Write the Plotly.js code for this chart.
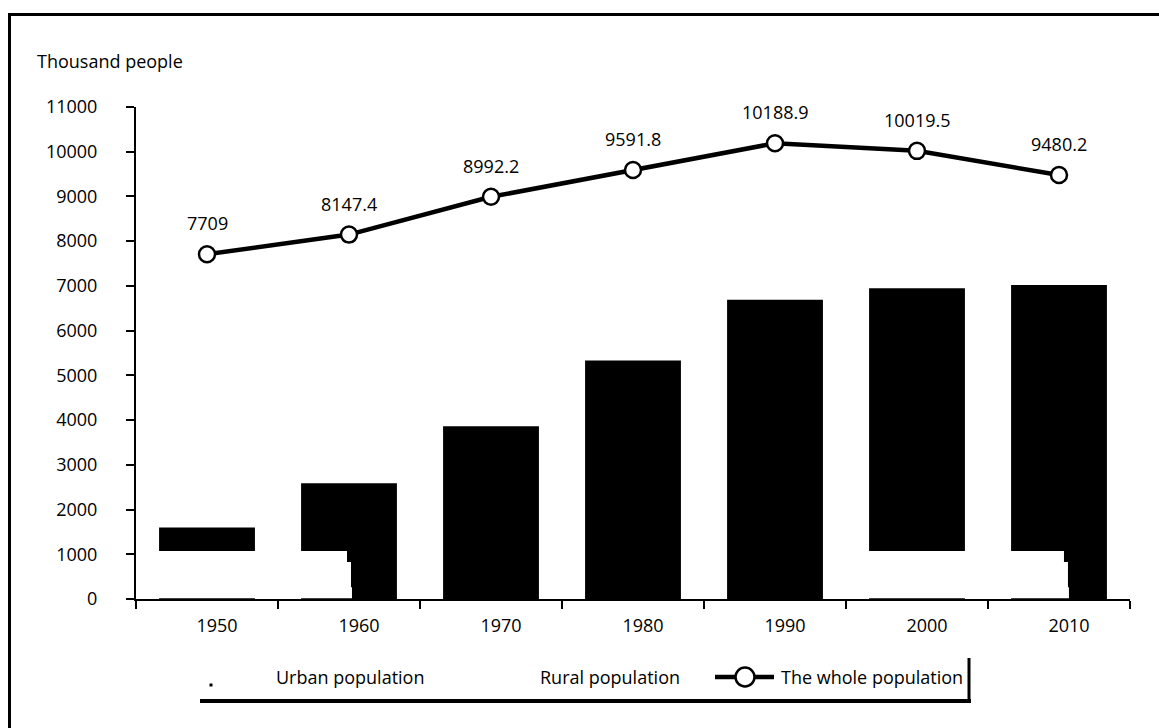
<!DOCTYPE html>
<html>
<head>
<meta charset="utf-8">
<script src="https://cdn.plot.ly/plotly-3.0.1.min.js"></script>
<style>
  html, body { margin: 0; padding: 0; background: #fff; overflow: hidden; }
  #wrap { position: relative; width: 1159px; height: 728px; }
  #chart { position: absolute; left: 0; top: 0; width: 1159px; height: 728px; }
  #frame { position: absolute; left: 8px; top: 13px; width: 1300px; height: 900px;
           border-top: 3px solid #000; border-left: 3px solid #000; pointer-events: none; }
</style>
</head>
<body>
<div id="wrap">
  <div id="chart"></div>
  <div id="frame"></div>
</div>
<script>
// ---- data ----
var years = ["1950", "1960", "1970", "1980", "1990", "2000", "2010"];
var urbanPopulation = [1600, 2590, 3860, 5330, 6690, 6950, 7020];
var wholePopulation = [7709, 8147.4, 8992.2, 9591.8, 10188.9, 10019.5, 9480.2];
var wholeLabels = ["7709", "8147.4", "8992.2", "9591.8", "10188.9", "10019.5", "9480.2"];
var legendNames = ["Urban population", "Rural population", "The whole population"];
var yAxisTitle = "Thousand people";

var FONT = '"Open Sans", "DejaVu Sans", sans-serif';

var traces = [
  {
    type: 'bar',
    name: legendNames[0],
    x: years,
    y: urbanPopulation,
    width: 0.675,
    marker: { color: '#000000', line: { width: 0 } },
    showlegend: false,
    hoverinfo: 'x+y'
  },
  {
    type: 'scatter',
    mode: 'lines+markers',
    name: legendNames[2],
    x: years,
    y: wholePopulation,
    line: { color: '#000000', width: 4.5 },
    marker: { size: 16, color: '#ffffff', line: { color: '#000000', width: 2.5 } },
    showlegend: false,
    cliponaxis: false
  }
];

// px -> paper helpers for decorations (plot area: x 136..1130, y 107..599)
function xp(px) { return (px - 136) / 994; }
function yp(py) { return (599 - py) / 492; }

var annotations = [];
for (var i = 0; i < years.length; i++) {
  annotations.push({
    x: i, y: wholePopulation[i], xref: 'x', yref: 'y',
    text: wholeLabels[i], showarrow: false, yshift: 31,
    font: { family: FONT, size: 18, color: '#000' }
  });
}
annotations.push({
  x: xp(35), y: yp(61), xref: 'paper', yref: 'paper', xanchor: 'left', yanchor: 'middle',
  text: yAxisTitle, showarrow: false, font: { family: FONT, size: 18, color: '#000' }
});
var legendX = [274, 538, 779];
var LEG_Y = 677;
for (var j = 0; j < legendNames.length; j++) {
  annotations.push({
    x: xp(legendX[j]), y: yp(LEG_Y), xref: 'paper', yref: 'paper', xanchor: 'left', yanchor: 'middle',
    text: legendNames[j], showarrow: false, font: { family: FONT, size: 18, color: '#000' }
  });
}

function mask(x0, x1, y0, y1) {
  return { type: 'rect', xref: 'x', yref: 'y', x0: x0, x1: x1, y0: y0, y1: y1,
           fillcolor: '#ffffff', line: { width: 0 }, layer: 'above' };
}

var shapes = [
  // white masks (as in the reference rendering); overlapping to avoid seams
  mask(-0.45, 1.021, 15, 260),
  mask(-0.45, 1.014, 240, 830),
  mask(-0.45, 0.986, 800, 1073),
  mask(4.6, 6.070, 15, 260),
  mask(4.6, 6.063, 240, 830),
  mask(4.6, 6.035, 800, 1073),
  // legend decorations
  { type: 'line', xref: 'paper', yref: 'paper', x0: xp(200), x1: xp(971), y0: yp(701), y1: yp(701), line: { color: '#000', width: 4 } },
  { type: 'line', xref: 'paper', yref: 'paper', x0: xp(969), x1: xp(969), y0: yp(658), y1: yp(703), line: { color: '#000', width: 3 } },
  { type: 'rect', xref: 'paper', yref: 'paper', x0: xp(209.5), x1: xp(212.5), y0: yp(683.5), y1: yp(686.5), fillcolor: '#000', line: { width: 0 } },
  { type: 'line', xref: 'paper', yref: 'paper', x0: xp(715), x1: xp(774), y0: yp(LEG_Y), y1: yp(LEG_Y), line: { color: '#000', width: 4.5 } },
  { type: 'circle', xref: 'paper', yref: 'paper', x0: xp(735.5), x1: xp(754.5), y0: yp(LEG_Y - 9.5), y1: yp(LEG_Y + 9.5), fillcolor: '#fff', line: { color: '#000', width: 2.5 } }
];

var layout = {
  width: 1159, height: 728,
  margin: { l: 136, r: 29, t: 107, b: 129, pad: 0 },
  paper_bgcolor: '#ffffff', plot_bgcolor: '#ffffff',
  font: { family: FONT, size: 18, color: '#000' },
  showlegend: false,
  barmode: 'overlay',
  xaxis: {
    type: 'category',
    range: [-0.5, 6.5],
    showline: true, linecolor: '#000', linewidth: 2,
    ticks: 'outside', tickson: 'boundaries', ticklen: 8, tickwidth: 2, tickcolor: '#000',
    showgrid: false, zeroline: false,
    ticklabelshift: 10,
    ticklabelstandoff: 9,
    tickfont: { family: FONT, size: 18, color: '#000' },
    fixedrange: true
  },
  yaxis: {
    range: [0, 11000],
    dtick: 1000, tick0: 0,
    tickformat: 'd',
    showline: true, linecolor: '#000', linewidth: 2,
    ticks: 'outside', ticklen: 8, tickwidth: 2, tickcolor: '#000',
    showgrid: false, zeroline: false,
    ticklabelstandoff: 25,
    tickfont: { family: FONT, size: 18, color: '#000' },
    fixedrange: true
  },
  annotations: annotations,
  shapes: shapes
};

Plotly.newPlot('chart', traces, layout, { displayModeBar: false, staticPlot: true });
</script>
</body>
</html>
